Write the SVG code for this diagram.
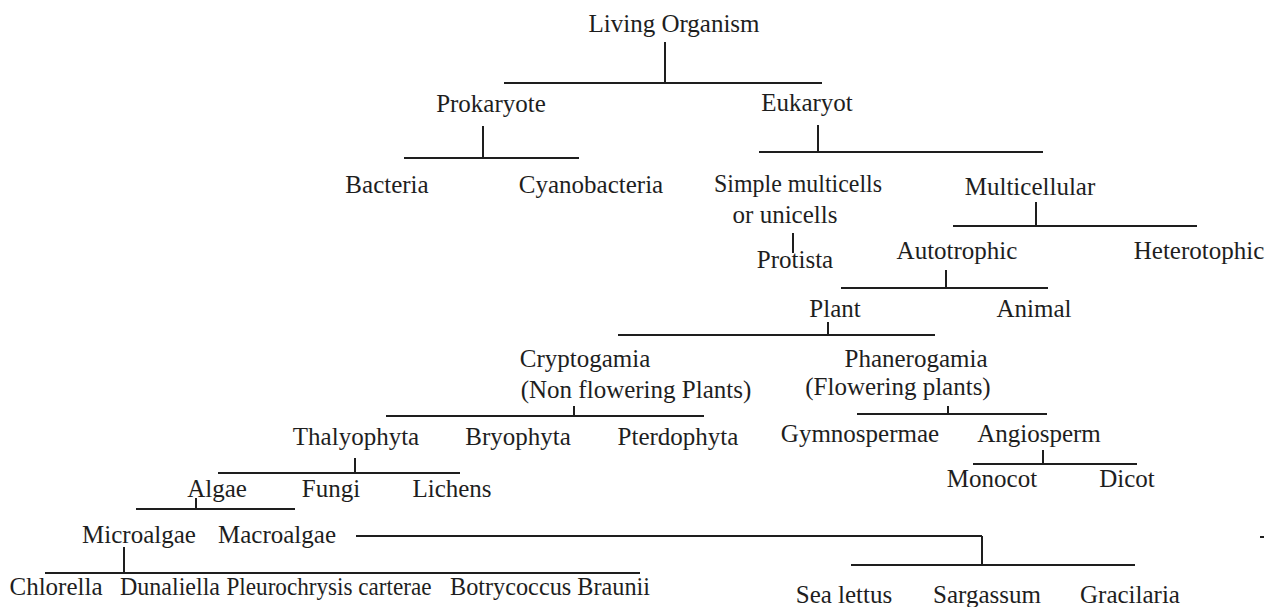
<svg xmlns="http://www.w3.org/2000/svg" width="1270" height="607" viewBox="0 0 1270 607">
<style>
text{font-family:"Liberation Serif","Times New Roman",serif;font-size:25px;fill:#1e1e1e;text-anchor:middle}
.c line{stroke:#1e1e1e;stroke-width:2;fill:none}
</style>
<rect width="1270" height="607" fill="#ffffff"/>
<g class="c" id="connectors">
<line x1="665" y1="42" x2="665" y2="83"/>
<line x1="504" y1="83" x2="822" y2="83"/>
<line x1="483" y1="126" x2="483" y2="158"/>
<line x1="404" y1="158" x2="579" y2="158"/>
<line x1="818" y1="125" x2="818" y2="152"/>
<line x1="759" y1="152" x2="1043" y2="152"/>
<line x1="793" y1="233" x2="793" y2="253"/>
<line x1="1036" y1="202" x2="1036" y2="226"/>
<line x1="953" y1="226" x2="1197" y2="226"/>
<line x1="946" y1="270" x2="946" y2="288"/>
<line x1="841" y1="288" x2="1048" y2="288"/>
<line x1="828" y1="322" x2="828" y2="335"/>
<line x1="618" y1="335" x2="935" y2="335"/>
<line x1="574" y1="406" x2="574" y2="416"/>
<line x1="386" y1="416" x2="704" y2="416"/>
<line x1="948" y1="406" x2="948" y2="414"/>
<line x1="857" y1="414" x2="1047" y2="414"/>
<line x1="355" y1="458" x2="355" y2="473"/>
<line x1="218" y1="473" x2="460" y2="473"/>
<line x1="196" y1="498" x2="196" y2="509"/>
<line x1="136" y1="509" x2="295" y2="509"/>
<line x1="1043" y1="450" x2="1043" y2="464"/>
<line x1="973" y1="464" x2="1137" y2="464"/>
<line x1="356" y1="536" x2="982" y2="536"/>
<line x1="982" y1="536" x2="982" y2="565"/>
<line x1="851" y1="565" x2="1135" y2="565"/>
<line x1="124" y1="547" x2="124" y2="573"/>
<line x1="45" y1="573" x2="640" y2="573"/>
<line x1="1260" y1="537" x2="1264" y2="537"/>
</g>
<g id="living"><text x="674" y="32">Living Organism</text></g>
<g id="prokaryote"><text x="491" y="112">Prokaryote</text></g>
<g id="eukaryot"><text x="807" y="111">Eukaryot</text></g>
<g id="bacteria"><text x="387" y="193">Bacteria</text></g>
<g id="cyanobacteria"><text x="591" y="193">Cyanobacteria</text></g>
<g id="simple"><text x="798" y="192" textLength="168" lengthAdjust="spacingAndGlyphs">Simple multicells</text><text x="785" y="223">or unicells</text></g>
<g id="protista"><text x="795" y="268">Protista</text></g>
<g id="multicellular"><text x="1030" y="195">Multicellular</text></g>
<g id="autotrophic"><text x="957" y="259">Autotrophic</text></g>
<g id="heterotophic"><text x="1199" y="259">Heterotophic</text></g>
<g id="plant"><text x="835" y="317">Plant</text></g>
<g id="animal"><text x="1034" y="317">Animal</text></g>
<g id="cryptogamia"><text x="585" y="367">Cryptogamia</text><text x="636" y="398">(Non flowering Plants)</text></g>
<g id="phanerogamia"><text x="916" y="367">Phanerogamia</text><text x="898" y="395">(Flowering plants)</text></g>
<g id="thalyophyta"><text x="356" y="445">Thalyophyta</text></g>
<g id="bryophyta"><text x="518" y="445">Bryophyta</text></g>
<g id="pterdophyta"><text x="678" y="445">Pterdophyta</text></g>
<g id="gymnospermae"><text x="860" y="442">Gymnospermae</text></g>
<g id="angiosperm"><text x="1039" y="442">Angiosperm</text></g>
<g id="algae"><text x="217" y="497">Algae</text></g>
<g id="fungi"><text x="331" y="497">Fungi</text></g>
<g id="lichens"><text x="452" y="497">Lichens</text></g>
<g id="monocot"><text x="992" y="487">Monocot</text></g>
<g id="dicot"><text x="1127" y="487">Dicot</text></g>
<g id="microalgae"><text x="139" y="543">Microalgae</text></g>
<g id="macroalgae"><text x="277" y="543">Macroalgae</text></g>
<g id="chlorella"><text x="56" y="595">Chlorella</text></g>
<g id="dunaliella"><text x="170" y="595" textLength="100" lengthAdjust="spacingAndGlyphs">Dunaliella</text></g>
<g id="pleurochrysis"><text x="329" y="595" textLength="205" lengthAdjust="spacingAndGlyphs">Pleurochrysis carterae</text></g>
<g id="botrycoccus"><text x="550" y="595" textLength="200" lengthAdjust="spacingAndGlyphs">Botrycoccus Braunii</text></g>
<g id="sealettus"><text x="844" y="603">Sea lettus</text></g>
<g id="sargassum"><text x="987" y="603">Sargassum</text></g>
<g id="gracilaria"><text x="1130" y="603">Gracilaria</text></g>
</svg>
